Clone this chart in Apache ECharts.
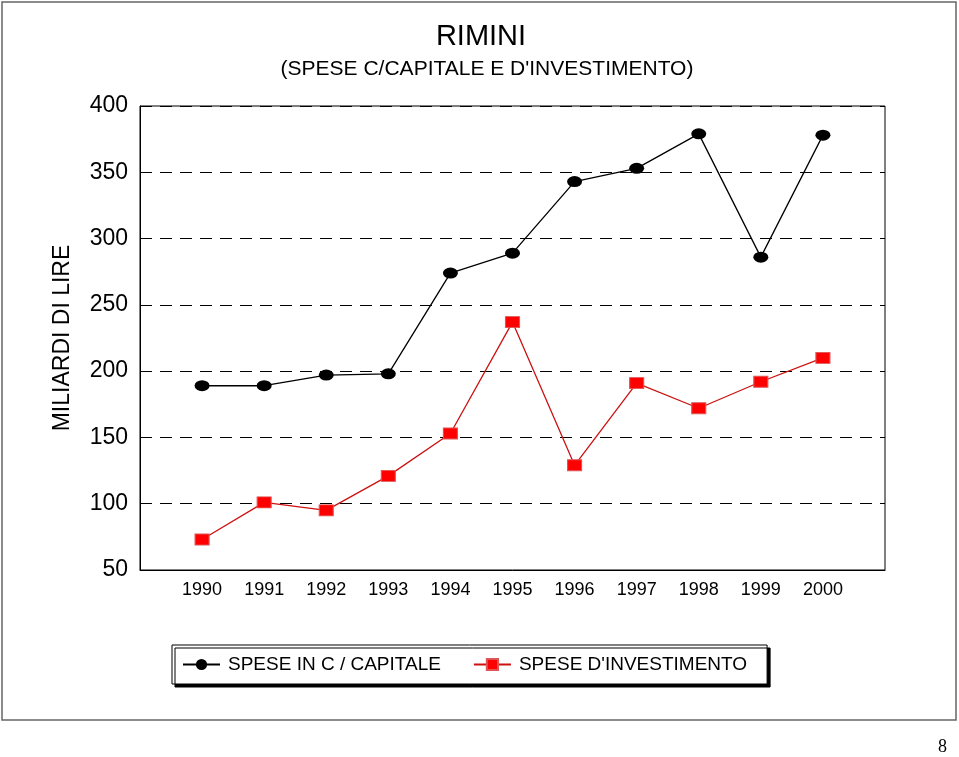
<!DOCTYPE html>
<html>
<head>
<meta charset="utf-8">
<script src="https://cdn.jsdelivr.net/npm/echarts@6/dist/echarts.min.js"></script>
<style>
html,body{margin:0;padding:0;background:#fff;}
#c{width:959px;height:757px;}
</style>
</head>
<body>
<div id="c"></div>
<script>
var years = [1990, 1991, 1992, 1993, 1994, 1995, 1996, 1997, 1998, 1999, 2000];
var speseCapitale = [189, 189, 197, 198, 274, 289, 343, 353, 379, 286, 378];
var speseInvestimento = [73, 101, 95, 121, 153, 237, 129, 191, 172, 192, 210];
var yTicks = [50, 100, 150, 200, 250, 300, 350, 400];

function pairs(vals) { return years.map(function (y, i) { return [y, vals[i]]; }); }

var chart = echarts.init(document.getElementById('c'), null, {renderer: 'canvas'});
chart.setOption({
  animation: false,
  backgroundColor: '#fff',
  textStyle: {fontFamily: 'Liberation Sans, Arial, sans-serif'},
  title: [
    {text: 'RIMINI', left: 476, top: 17, textAlign: 'center',
     textStyle: {fontSize: 29, fontWeight: 'normal', color: '#000'}},
    {text: "(SPESE C/CAPITALE E D'INVESTIMENTO)", left: 482, top: 54, textAlign: 'center',
     textStyle: {fontSize: 21, fontWeight: 'normal', color: '#000'}}
  ],
  grid: {left: 140, top: 106, right: 74, bottom: 187, show: true, borderColor: '#000', borderWidth: 1, backgroundColor: 'transparent'},
  xAxis: {
    type: 'value', min: 1989, max: 2001, interval: 1,
    axisLine: {show: true, onZero: false, lineStyle: {color: '#000', width: 1}},
    axisTick: {show: false},
    splitLine: {show: false},
    axisLabel: {
      color: '#000', fontSize: 18, margin: 11,
      formatter: function (v) { return years.indexOf(v) >= 0 ? String(v) : ''; }
    }
  },
  yAxis: {
    type: 'value', min: 50, max: 400, interval: 50,
    name: 'MILIARDI DI LIRE', nameLocation: 'middle', nameGap: 66, nameRotate: 90,
    nameTextStyle: {fontSize: 23, color: '#000'},
    axisLine: {show: true, lineStyle: {color: '#000', width: 1}},
    axisTick: {show: false},
    axisLabel: {color: '#000', fontSize: 23, margin: 12,
      formatter: function (v) { return yTicks.indexOf(v) >= 0 ? String(v) : ''; }},
    splitLine: {show: true, lineStyle: {color: '#000', type: [12, 8], width: 1}}
  },
  legend: {
    left: 172, top: 645,
    orient: 'horizontal',
    padding: [10, 20, 10, 10],
    itemGap: 32,
    itemWidth: 37, itemHeight: 14,
    backgroundColor: '#fff',
    borderColor: '#000', borderWidth: 1,
    shadowColor: '#000', shadowBlur: 0, shadowOffsetX: 3, shadowOffsetY: 3,
    textStyle: {fontSize: 19, color: '#000', padding: [0, 0, 0, 3]},
    data: ['SPESE IN C / CAPITALE', "SPESE D'INVESTIMENTO"]
  },
  series: [
    {
      name: 'SPESE IN C / CAPITALE', type: 'line', data: pairs(speseCapitale),
      symbol: 'circle', symbolSize: [15, 11],
      lineStyle: {color: '#000', width: 1.3},
      itemStyle: {color: '#000', borderColor: '#000', borderWidth: 0},
      z: 3
    },
    {
      name: "SPESE D'INVESTIMENTO", type: 'line', data: pairs(speseInvestimento),
      symbol: 'rect', symbolSize: [14, 11],
      lineStyle: {color: '#cc1111', width: 1.3},
      itemStyle: {color: '#ff0000', borderColor: '#dd5555', borderWidth: 1},
      z: 3
    }
  ],
  graphic: [
    {type: 'rect', z: -10, silent: true,
     shape: {x: 2, y: 2, width: 954, height: 718},
     style: {fill: 'none', stroke: '#666', lineWidth: 1.5}},
    {type: 'text', left: 938, top: 738,
     style: {text: '8', fontSize: 18, fontFamily: 'Liberation Serif, Times New Roman, serif', fill: '#000'}}
  ]
});
</script>
</body>
</html>
